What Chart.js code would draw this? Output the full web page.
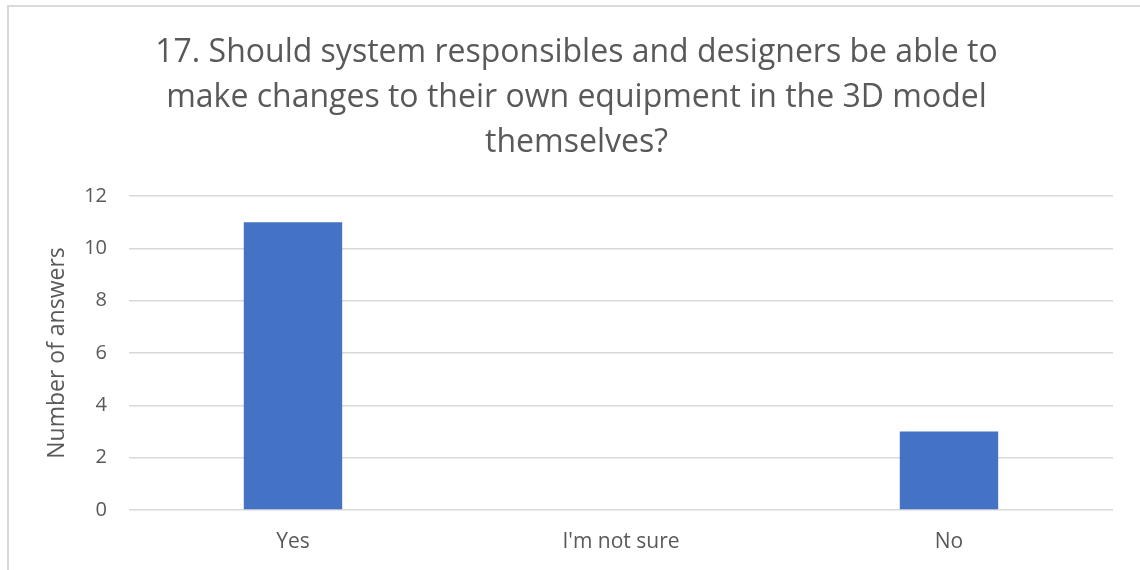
<!DOCTYPE html>
<html>
<head>
<meta charset="utf-8">
<script src="https://cdn.jsdelivr.net/npm/chart.js@4.4.1/dist/chart.umd.min.js"></script>
<style>
  html, body { margin: 0; padding: 0; background: #ffffff; overflow: hidden; }
  #wrap { position: absolute; left: 0; top: 0; width: 1140px; height: 570px; }
  #frame { position: absolute; left: 7px; top: 5px; width: 1200px; height: 640px; border: 2px solid #d9d9d9; box-sizing: border-box; pointer-events: none; }
</style>
</head>
<body>
<div id="wrap"><canvas id="c" width="1140" height="570"></canvas></div>
<div id="frame"></div>
<script>
const categories = ["Yes", "I'm not sure", "No"];
const answers = [11, 0, 3];
const yTicks = [0, 2, 4, 6, 8, 10, 12];
const titleLines = [
  "17. Should system responsibles and designers be able to",
  "make changes to their own equipment in the 3D model",
  "themselves?"
];
const yAxisTitle = "Number of answers";

const FONT = "'Open Sans', 'Noto Sans', sans-serif";
const TEXT = "#595959";

new Chart(document.getElementById('c'), {
  type: 'bar',
  data: {
    labels: categories,
    datasets: [{
      data: answers,
      backgroundColor: '#4472C4',
      borderWidth: 0,
      categoryPercentage: 1.0,
      barPercentage: 0.30
    }]
  },
  options: {
    responsive: false,
    animation: false,
    devicePixelRatio: 1,
    layout: { padding: { left: 40, right: 27, top: 0, bottom: 0 } },
    plugins: {
      legend: { display: false },
      tooltip: { enabled: false },
      title: {
        display: true,
        text: titleLines,
        color: TEXT,
        font: { family: FONT, size: 32, weight: 'normal', lineHeight: 45 / 32 },
        padding: { top: 30, bottom: 31 }
      }
    },
    scales: {
      x: {
        grid: { display: false, drawTicks: false },
        border: { display: false },
        ticks: { color: TEXT, font: { family: FONT, size: 21 }, padding: 19 },
        afterFit: (s) => { s.height = 60; }
      },
      y: {
        min: 0,
        max: 12,
        afterBuildTicks: (s) => { s.ticks = yTicks.map(v => ({ value: v })); },
        grid: { color: '#d9d9d9', lineWidth: 1.5, drawTicks: false },
        border: { display: false },
        ticks: { color: TEXT, font: { family: FONT, size: 20 }, padding: 22 },
        title: {
          display: true,
          text: yAxisTitle,
          color: TEXT,
          font: { family: FONT, size: 23 },
          padding: { top: 4, bottom: 0 }
        },
        afterFit: (s) => { s.width = 89; }
      }
    }
  }
});
</script>
</body>
</html>
